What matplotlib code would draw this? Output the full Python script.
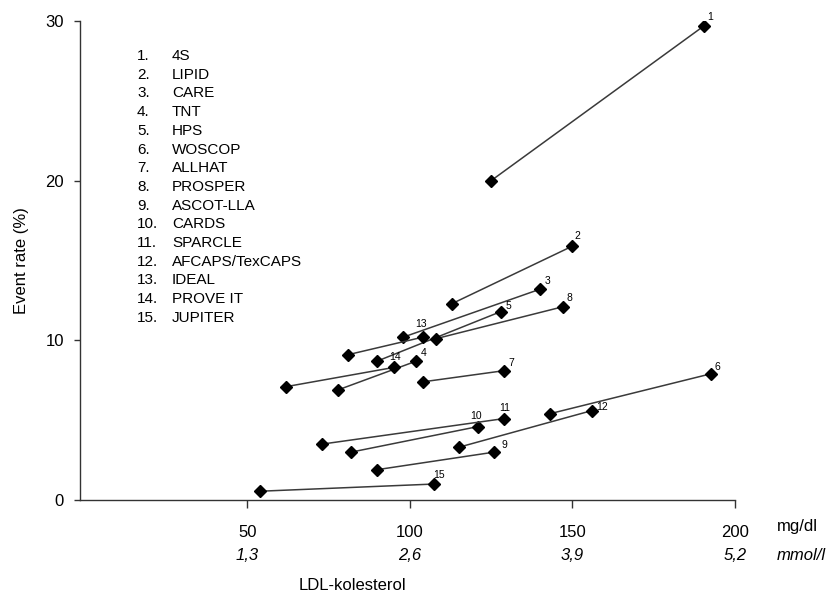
import matplotlib
matplotlib.use('Agg')
import matplotlib.pyplot as plt
from matplotlib.transforms import blended_transform_factory

plt.rcParams['font.family'] = ['Liberation Sans', 'DejaVu Sans']

# trials (numbered as in the list)
trials = ['4S', 'LIPID', 'CARE', 'TNT', 'HPS', 'WOSCOP', 'ALLHAT', 'PROSPER',
          'ASCOT-LLA', 'CARDS', 'SPARCLE', 'AFCAPS/TexCAPS', 'IDEAL',
          'PROVE IT', 'JUPITER']

# LDL (mg/dl) and event rate (%) - treated arm / control arm
ldl_low = [125, 113, 98, 78, 90, 143, 104, 108, 90, 82, 73, 115, 81, 62, 54]
ldl_high = [190.5, 150, 140, 102, 128, 192.5, 129, 147, 126, 121, 129, 156, 104, 95, 107.5]
rate_low = [20.0, 12.3, 10.2, 6.9, 8.7, 5.4, 7.4, 10.1, 1.9, 3.0, 3.5, 3.3, 9.1, 7.1, 0.55]
rate_high = [29.7, 15.9, 13.2, 8.7, 11.8, 7.9, 8.1, 12.1, 3.0, 4.6, 5.1, 5.6, 10.2, 8.3, 1.0]

mgdl_ticks = [50, 100, 150, 200]
mmol_labels = ['1,3', '2,6', '3,9', '5,2']
y_ticks = [0, 10, 20, 30]

# label offsets (pixels, right / up) for the small numbers
lbl_off = [(6, 9), (5, 10), (8, 8), (7, 8), (8, 6), (7, 7), (7, 8), (7, 9),
           (10, 7), (-2, 11), (1, 11), (10, 4), (-2, 13), (2, 10), (5, 9)]

fig = plt.figure(figsize=(8.4, 5.98), dpi=100)
ax = fig.add_axes([80/840, 98/598, 655/840, 479/598])

for i in range(len(trials)):
    ax.plot([ldl_low[i], ldl_high[i]], [rate_low[i], rate_high[i]],
            color='#3a3a3a', lw=1.1, marker='D', ms=6,
            mfc='black', mec='black', zorder=3)
    dx, dy = lbl_off[i]
    ax.annotate(str(i + 1), (ldl_high[i], rate_high[i]),
                xytext=(dx * 0.72, dy * 0.72), textcoords='offset points',
                ha='center', va='center', fontsize=7.5)

ax.set_xlim(-1.4, 200)
ax.set_ylim(0, 30)
for s in ['top', 'right']:
    ax.spines[s].set_visible(False)
for s in ['left', 'bottom']:
    ax.spines[s].set_color('#333333')
    ax.spines[s].set_linewidth(1)

ax.set_yticks(y_ticks)
ax.set_xticks(mgdl_ticks)
ax.set_xticklabels([str(v) for v in mgdl_ticks])
ax.tick_params(axis='y', direction='out', length=4.5, width=1, pad=7,
               labelsize=12, colors='#333333', labelcolor='black')
ax.tick_params(axis='x', direction='out', length=6, width=1, pad=12,
               labelsize=12, colors='#333333', labelcolor='black')

ax.set_ylabel('Event rate (%)', fontsize=12, labelpad=12)

# second row of x labels in mmol/l
trans = blended_transform_factory(ax.transData, fig.transFigure)
for v, lab in zip(mgdl_ticks, mmol_labels):
    ax.text(v, 1 - 556/598, lab, transform=trans, ha='center', va='center',
            fontsize=12, style='italic')
fig.text(777/840, 1 - 526/598, 'mg/dl', ha='left', va='center', fontsize=12)
fig.text(777/840, 1 - 556/598, 'mmol/l', ha='left', va='center', fontsize=12,
         style='italic')
fig.text(352/840, 1 - 585/598, 'LDL-kolesterol', ha='center', va='center',
         fontsize=12)

# numbered list of trials
for i, name in enumerate(trials):
    y = 1 - (56 + i * 18.7) / 598
    fig.text(137/840, y, f'{i + 1}.', ha='left', va='center', fontsize=11)
    fig.text(172/840, y, name, ha='left', va='center', fontsize=11)

fig.savefig('out.png', dpi=100)
